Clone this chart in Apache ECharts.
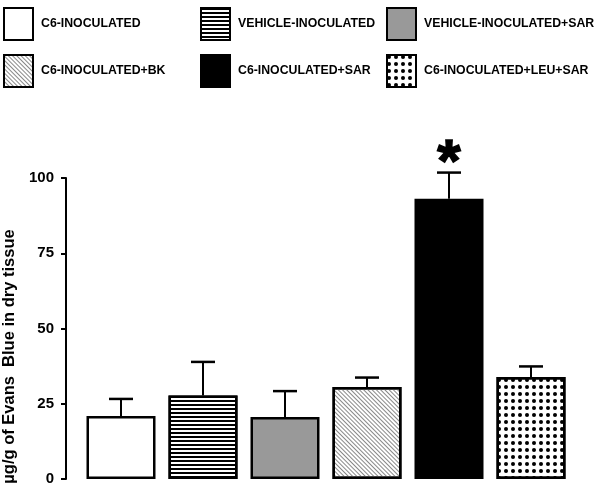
<!DOCTYPE html>
<html>
<head>
<meta charset="utf-8">
<script src="https://cdn.jsdelivr.net/npm/echarts@6/dist/echarts.min.js"></script>
<style>
  html, body { margin: 0; padding: 0; background: #fff; }
  #chart { width: 600px; height: 491px; }
</style>
</head>
<body>
<div id="chart"></div>
<script>
const groups = [
  'C6-INOCULATED',
  'VEHICLE-INOCULATED',
  'VEHICLE-INOCULATED+SAR',
  'C6-INOCULATED+BK',
  'C6-INOCULATED+SAR',
  'C6-INOCULATED+LEU+SAR'
];
const means = [20.9, 27.7, 20.6, 30.6, 93.1, 33.9];
const errors = [5.7, 11.2, 8.6, 3.1, 8.7, 3.5];
const marks = ['', '', '', '', '*', ''];
const yTicks = [0, 25, 50, 75, 100];
const yTitle = 'µg/g of Evans  Blue in dry tissue';

const font = 'Arial, "Liberation Sans", sans-serif';

// fill / pattern for each group, same order as groups
const fills = [
  { color: '#fff' },
  { color: '#fff', decal: { symbol: 'rect', symbolSize: 1, dashArrayX: [1, 0], dashArrayY: [2, 2], rotation: 0, color: '#000' } },
  { color: '#999' },
  { color: '#fff', decal: { symbol: 'rect', symbolSize: 1, dashArrayX: [1, 0], dashArrayY: [1, 2], rotation: Math.PI / 4, color: '#888' } },
  { color: '#000' },
  { color: '#fff', decal: { symbol: 'circle', symbolSize: 1, dashArrayX: [4, 3], dashArrayY: [4, 3], rotation: 0, color: '#000' } }
];
const legendPos = [[3, 7], [200, 7], [386, 7], [3, 54], [200, 54], [386, 54]];

const chart = echarts.init(document.getElementById('chart'));

const barSeries = groups.map((name, k) => ({
  name: name,
  type: 'bar',
  stack: 'all',
  barWidth: 69,
  data: means.map((v, i) => (i === k ? v : '-')),
  itemStyle: Object.assign({ borderColor: '#000', borderWidth: 2.5 }, fills[k]),
  emphasis: { disabled: true }
}));

const errSeries = {
  type: 'custom',
  silent: true,
  z: 5,
  data: means.map((m, i) => [i, m, errors[i]]),
  renderItem: (params, api) => {
    const i = api.value(0);
    const top = api.coord([i, api.value(1)]);
    const hi = api.coord([i, api.value(1) + api.value(2)]);
    const children = [
      { type: 'line', shape: { x1: top[0], y1: top[1], x2: hi[0], y2: hi[1] }, style: { stroke: '#000', lineWidth: 2 } },
      { type: 'line', shape: { x1: hi[0] - 12, y1: hi[1], x2: hi[0] + 12, y2: hi[1] }, style: { stroke: '#000', lineWidth: 2.5 } }
    ];
    if (marks[i]) {
      children.push({
        type: 'text',
        x: hi[0],
        y: hi[1] - 8,
        style: { text: marks[i], font: 'bold 60px ' + font, fill: '#000', stroke: '#000', lineWidth: 1.5, align: 'center', verticalAlign: 'middle' }
      });
    }
    return { type: 'group', children: children };
  }
};

chart.setOption({
  animation: false,
  backgroundColor: '#fff',
  legend: groups.map((name, k) => ({
    data: [name],
    left: legendPos[k][0],
    top: legendPos[k][1],
    padding: 0,
    icon: 'rect',
    itemWidth: 29,
    itemHeight: 32,
    selectedMode: false,
    textStyle: { fontFamily: font, fontWeight: 'bold', fontSize: 12.3, color: '#000', padding: [0, 0, 0, 3] }
  })),
  grid: { left: 80, right: 28, top: 178, bottom: 12, containLabel: false, outerBoundsMode: 'none' },
  xAxis: {
    type: 'category',
    data: groups,
    show: false
  },
  yAxis: {
    type: 'value',
    min: yTicks[0],
    max: yTicks[yTicks.length - 1],
    interval: yTicks[1] - yTicks[0],
    offset: 14,
    name: yTitle,
    nameLocation: 'middle',
    nameGap: 46,
    nameTextStyle: { fontFamily: font, fontWeight: 'bold', fontSize: 16.5, color: '#000', padding: [0, 56, 0, 0] },
    splitLine: { show: false },
    axisLine: { show: true, lineStyle: { color: '#000', width: 2 } },
    axisTick: { show: true, length: 5, lineStyle: { color: '#000', width: 2 } },
    axisLabel: { fontFamily: font, fontWeight: 'bold', fontSize: 15, color: '#000', margin: 12 }
  },
  series: barSeries.concat([errSeries])
});
</script>
</body>
</html>
